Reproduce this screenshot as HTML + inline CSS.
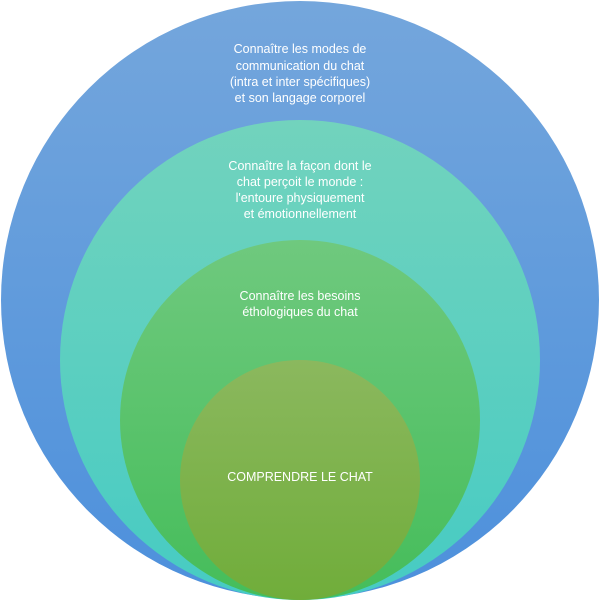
<!DOCTYPE html>
<html><head><meta charset="utf-8"><style>
html,body{margin:0;padding:0;background:#fff;}
</style></head><body>
<svg width="600" height="600" viewBox="0 0 600 600" xmlns="http://www.w3.org/2000/svg">
<defs>
<linearGradient id="g1" x1="0" y1="0" x2="0" y2="1"><stop offset="0" stop-color="#74a6dc"/><stop offset="1" stop-color="#4d90dc"/></linearGradient>
<linearGradient id="g2" x1="0" y1="0" x2="0" y2="1"><stop offset="0" stop-color="#72d3bd"/><stop offset="1" stop-color="#46cbc3"/></linearGradient>
<linearGradient id="g3" x1="0" y1="0" x2="0" y2="1"><stop offset="0" stop-color="#6fc97e"/><stop offset="1" stop-color="#45bd5a"/></linearGradient>
<linearGradient id="g4" x1="0" y1="0" x2="0" y2="1"><stop offset="0" stop-color="#8bb85e"/><stop offset="1" stop-color="#70ad3a"/></linearGradient>
</defs>
<circle cx="300" cy="300" r="299" fill="url(#g1)"/>
<circle cx="300" cy="360" r="240" fill="url(#g2)"/>
<circle cx="300" cy="420" r="180" fill="url(#g3)"/>
<circle cx="300" cy="480" r="120" fill="url(#g4)"/>
<g fill="#fff" font-family="Liberation Sans, sans-serif" font-size="12.5" text-anchor="middle">
<text x="300" y="53">Connaître les modes de</text>
<text x="300" y="70">communication du chat</text>
<text x="300" y="86">(intra et inter spécifiques)</text>
<text x="300" y="102">et son langage corporel</text>
<text x="300" y="170">Connaître la façon dont le</text>
<text x="300" y="186">chat perçoit le monde :</text>
<text x="300" y="202">l'entoure physiquement</text>
<text x="300" y="218">et émotionnellement</text>
<text x="300" y="300">Connaître les besoins</text>
<text x="300" y="316">éthologiques du chat</text>
<text x="300" y="481">COMPRENDRE LE CHAT</text>
</g>
</svg>
</body></html>
